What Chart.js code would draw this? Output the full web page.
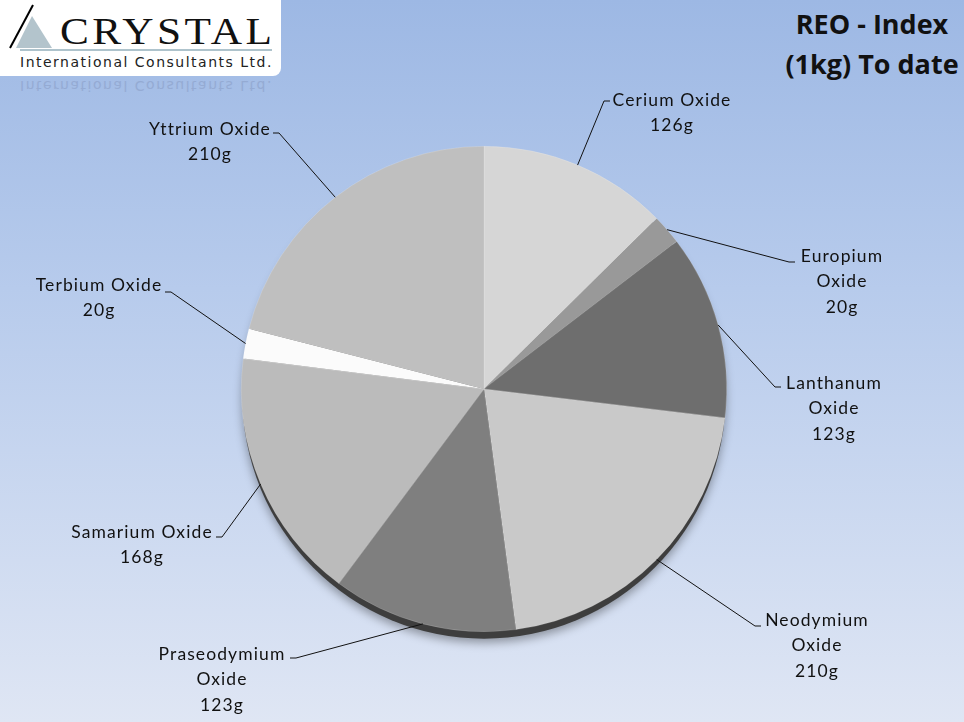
<!DOCTYPE html>
<html>
<head>
<meta charset="utf-8">
<script src="https://cdn.jsdelivr.net/npm/chart.js@4.4.1/dist/chart.umd.min.js"></script>
<style>
  html, body { margin: 0; padding: 0; }
  body {
    width: 964px; height: 722px; overflow: hidden; position: relative;
    background: linear-gradient(to bottom, #9db8e4 0%, #b7cbec 40%, #dfe6f4 100%);
  }
  #wrap { position: absolute; left: 0; top: 0; width: 964px; height: 722px; }
  #logo {
    position: absolute; left: 0; top: 0; width: 281px; height: 76px;
    background: #fff; border-radius: 0 0 8px 0;
  }
  .crystal {
    position: absolute; left: 60px; top: 9px;
    font: 38px "Liberation Serif", serif; letter-spacing: 3px; color: #111;
    transform: scaleX(1.14); transform-origin: left top;
  }
  .rule { position: absolute; left: 20px; top: 49px; width: 252px; height: 2px; background: #aec3cc; }
  .sub {
    position: absolute; left: 20px; top: 54px;
    font: 14px "DejaVu Sans", sans-serif; letter-spacing: 1.5px; color: #222;
  }
  #mirror {
    position: absolute; left: 0; top: 78px; width: 281px; height: 18px; overflow: hidden;
  }
  #mirror .sub { top: 0px; transform: scaleY(-1); color: #8699c2; opacity: 0.5; }
  #title {
    position: absolute; right: -8px; top: 4px; width: 200px; text-align: center;
    font: bold 27px "Open Sans", sans-serif; line-height: 40px; color: #111;
  }
</style>
</head>
<body>
<div id="logo">
  <svg width="60" height="60" style="position:absolute;left:6px;top:2px">
    <polygon points="10,46 26,14 46,46" fill="#b3c4cc"/>
    <line x1="4" y1="46" x2="27" y2="3" stroke="#000" stroke-width="2"/>
  </svg>
  <div class="crystal">CRYSTAL</div>
  <div class="rule"></div>
  <div class="sub">International Consultants Ltd.</div>
</div>
<div id="mirror"><div class="sub">International Consultants Ltd.</div></div>
<div id="title">REO - Index<br>(1kg) To date</div>
<div id="wrap"><canvas id="c" width="964" height="722"></canvas></div>
<script>
// valores (gramas por 1kg)
const names = ['Cerium Oxide', 'Europium Oxide', 'Lanthanum Oxide', 'Neodymium Oxide',
               'Praseodymium Oxide', 'Samarium Oxide', 'Terbium Oxide', 'Yttrium Oxide'];
const grams = [126, 20, 123, 210, 123, 168, 20, 210];
const labelLines = [
  ['Cerium Oxide', '126g'],
  ['Europium', 'Oxide', '20g'],
  ['Lanthanum', 'Oxide', '123g'],
  ['Neodymium', 'Oxide', '210g'],
  ['Praseodymium', 'Oxide', '123g'],
  ['Samarium Oxide', '168g'],
  ['Terbium Oxide', '20g'],
  ['Yttrium Oxide', '210g']
];
const sliceColors = ['#d6d6d6', '#999999', '#6e6e6e', '#c9c9c9', '#7f7f7f', '#bbbbbb', '#fbfbfb', '#bfbfbf'];

// onde cada rótulo fica (ponta da linha, centro do texto, topo do texto)
const labelSpots = [
  { ex: 604, ey: 101, tx: 672, ty: 100 },
  { ex: 789, ey: 262, tx: 842, ty: 256 },
  { ex: 775, ey: 387, tx: 834, ty: 383 },
  { ex: 755, ey: 626, tx: 817, ty: 620 },
  { ex: 296, ey: 658, tx: 222, ty: 654 },
  { ex: 222, ey: 537, tx: 142, ty: 532 },
  { ex: 171, ey: 292, tx: 99,  ty: 285 },
  { ex: 279, ey: 133, tx: 210, ty: 129 }
];

const rimPlugin = {
  id: 'rim',
  beforeDatasetsDraw(chart) {
    const arc = chart.getDatasetMeta(0).data[0];
    if (!arc) return;
    const { x, y, outerRadius } = arc.getProps(['x', 'y', 'outerRadius'], true);
    const g = chart.ctx;
    g.save();
    g.shadowColor = 'rgba(0,0,0,0.35)';
    g.shadowBlur = 10;
    g.shadowOffsetY = 4;
    g.fillStyle = '#3e3e3e';
    g.beginPath();
    g.ellipse(x, y + 7, outerRadius - 1, outerRadius, 0, 0, Math.PI * 2);
    g.fill();
    g.restore();
  }
};

const labelPlugin = {
  id: 'leaderLabels',
  afterDatasetsDraw(chart) {
    const g = chart.ctx;
    const meta = chart.getDatasetMeta(0);
    g.save();
    g.font = '17.5px Lato, sans-serif';
    g.letterSpacing = '1.1px';
    g.textAlign = 'center';
    g.textBaseline = 'middle';
    meta.data.forEach((arc, i) => {
      const p = arc.getProps(['x', 'y', 'startAngle', 'endAngle', 'outerRadius'], true);
      const mid = (p.startAngle + p.endAngle) / 2;
      const sx = p.x + Math.cos(mid) * p.outerRadius;
      const sy = p.y + Math.sin(mid) * p.outerRadius;
      const s = labelSpots[i];
      g.strokeStyle = '#111';
      g.lineWidth = 1;
      g.beginPath();
      g.moveTo(sx, sy);
      g.lineTo(s.ex, s.ey);
      g.lineTo(s.ex + (s.tx > s.ex ? 6 : -6), s.ey);
      g.stroke();
      g.fillStyle = '#111';
      labelLines[i].forEach((t, k) => g.fillText(t, s.tx, s.ty + k * 25.5));
    });
    g.restore();
  }
};

new Chart(document.getElementById('c'), {
  type: 'pie',
  data: {
    labels: names,
    datasets: [{
      data: grams,
      backgroundColor: sliceColors,
      borderColor: 'rgba(255,255,255,0.25)',
      borderWidth: 0.6
    }]
  },
  options: {
    responsive: false,
    animation: false,
    layout: { padding: { top: 146, bottom: 90, left: 4, right: 0 } },
    plugins: {
      legend: { display: false },
      tooltip: { enabled: false }
    }
  },
  plugins: [rimPlugin, labelPlugin]
});
</script>
</body>
</html>
